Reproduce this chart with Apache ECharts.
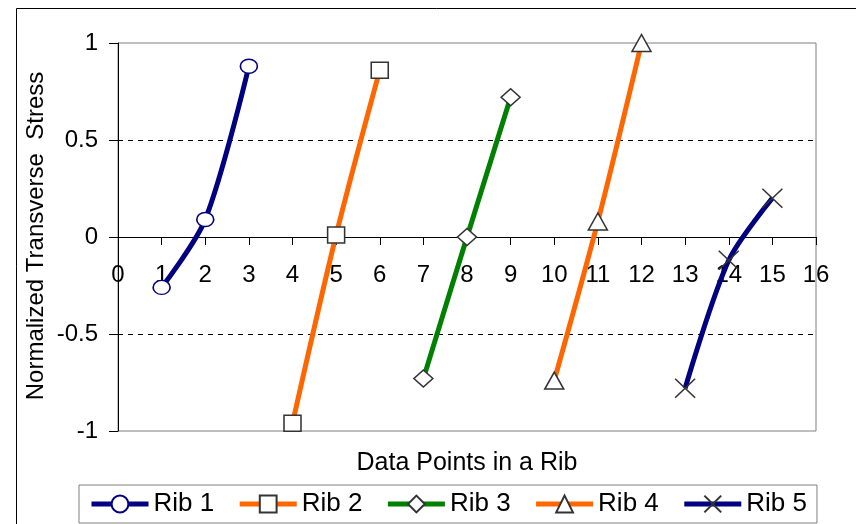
<!DOCTYPE html>
<html>
<head>
<meta charset="utf-8">
<script src="https://cdn.jsdelivr.net/npm/echarts@6/dist/echarts.min.js"></script>
<style>html,body{margin:0;padding:0;background:#fff}#c{width:856px;height:524px}</style>
</head>
<body>
<div id="c"></div>
<script>
// Data
const ribNames = ['Rib 1', 'Rib 2', 'Rib 3', 'Rib 4', 'Rib 5'];
const rib1X = [1, 2, 3];    const rib1Y = [-0.26, 0.09, 0.88];
const rib2X = [4, 5, 6];    const rib2Y = [-0.96, 0.01, 0.86];
const rib3X = [7, 8, 9];    const rib3Y = [-0.73, 0.0, 0.72];
const rib4X = [10, 11, 12]; const rib4Y = [-0.74, 0.08, 1.0];
const rib5X = [13, 14, 15]; const rib5Y = [-0.78, -0.12, 0.2];
const xTicks = [0, 16, 1];       // min, max, interval
const yTicks = [-1, 1, 0.5];     // min, max, interval
const xTitle = 'Data Points in a Rib';
const yTitle = 'Normalized Transverse  Stress';

const FONT = '"Liberation Sans", Arial, sans-serif';
const pairs = (xs, ys) => xs.map((x, i) => [x, ys[i]]);
const ribData = [pairs(rib1X, rib1Y), pairs(rib2X, rib2Y), pairs(rib3X, rib3Y), pairs(rib4X, rib4Y), pairs(rib5X, rib5Y)];
const styles = [
  {color: '#000080', symbol: 'circle', size: [17, 14], border: '#000080'},
  {color: '#FF6600', symbol: 'rect', size: [17, 16], border: '#333333'},
  {color: '#008000', symbol: 'diamond', size: [19, 17], border: '#333333'},
  {color: '#FF6600', symbol: 'triangle', size: [19, 17], border: '#333333'},
  {color: '#000080', symbol: 'path://M0,0L10,10M10,0L0,10', size: [20, 19], border: '#333333'}
];

const GRID_TOP = 43, GRID_BOTTOM = 93, H = 524;
const plotH = H - GRID_TOP - GRID_BOTTOM;
// x axis sits at y = 0 : shift from the grid bottom by half of the plot height
const xOffset = -plotH * (0 - yTicks[0]) / (yTicks[1] - yTicks[0]);

const series = ribData.map((d, i) => ({
  name: ribNames[i],
  type: 'line',
  data: d,
  smooth: 0.3,
  symbol: styles[i].symbol,
  symbolSize: styles[i].size,
  showAllSymbol: true,
  lineStyle: {color: styles[i].color, width: 5},
  itemStyle: {color: '#ffffff', borderColor: styles[i].border, borderWidth: 1.5},
  emphasis: {disabled: true},
  animation: false
}));

const chart = echarts.init(document.getElementById('c'), null, {renderer: 'canvas'});
chart.setOption({
  animation: false,
  backgroundColor: '#ffffff',
  textStyle: {fontFamily: FONT},
  grid: {left: 118, right: 40, top: GRID_TOP, bottom: GRID_BOTTOM, show: true, borderColor: '#808080', borderWidth: 1, backgroundColor: 'transparent'},
  xAxis: {
    type: 'value', min: xTicks[0], max: xTicks[1], interval: xTicks[2],
    position: 'bottom', offset: xOffset,
    axisLine: {show: true, onZero: false, lineStyle: {color: '#000', width: 1}},
    axisTick: {show: true, inside: false, length: 8, lineStyle: {color: '#000'}},
    axisLabel: {show: true, margin: 26, fontSize: 24, color: '#000', fontFamily: FONT},
    splitLine: {show: false}
  },
  yAxis: {
    type: 'value', min: yTicks[0], max: yTicks[1], interval: yTicks[2],
    axisLine: {show: true, onZero: false, lineStyle: {color: '#000', width: 1}},
    axisTick: {show: true, inside: false, length: 9, lineStyle: {color: '#000'}},
    axisLabel: {show: true, margin: 20, fontSize: 24, color: '#000', fontFamily: FONT},
    splitLine: {show: true, showMinLine: false, showMaxLine: false, lineStyle: {color: '#000', type: [5, 5], width: 1}}
  },
  legend: {
    left: 79, top: 485,
    data: ribNames,
    itemWidth: 57, itemHeight: 21, itemGap: 23,
    padding: [6, 10, 6, 10],
    borderColor: '#808080', borderWidth: 1, backgroundColor: '#fff',
    lineStyle: {width: 5},
    textStyle: {fontSize: 26, color: '#000', fontFamily: FONT},
    selectedMode: false
  },
  graphic: [
    {type: 'rect', silent: true, shape: {x: 16.5, y: 8.5, width: 900, height: 600}, style: {fill: 'none', stroke: '#000', lineWidth: 1}, z: 100},
    {type: 'text', silent: true, x: 467, y: 463, style: {text: xTitle, fontSize: 25, fontFamily: FONT, fill: '#000', align: 'center', verticalAlign: 'middle'}},
    {type: 'text', silent: true, x: 36, y: 236, rotation: Math.PI / 2, style: {text: yTitle, fontSize: 24, fontFamily: FONT, fill: '#000', align: 'center', verticalAlign: 'middle'}}
  ],
  series: series
});
</script>
</body>
</html>
